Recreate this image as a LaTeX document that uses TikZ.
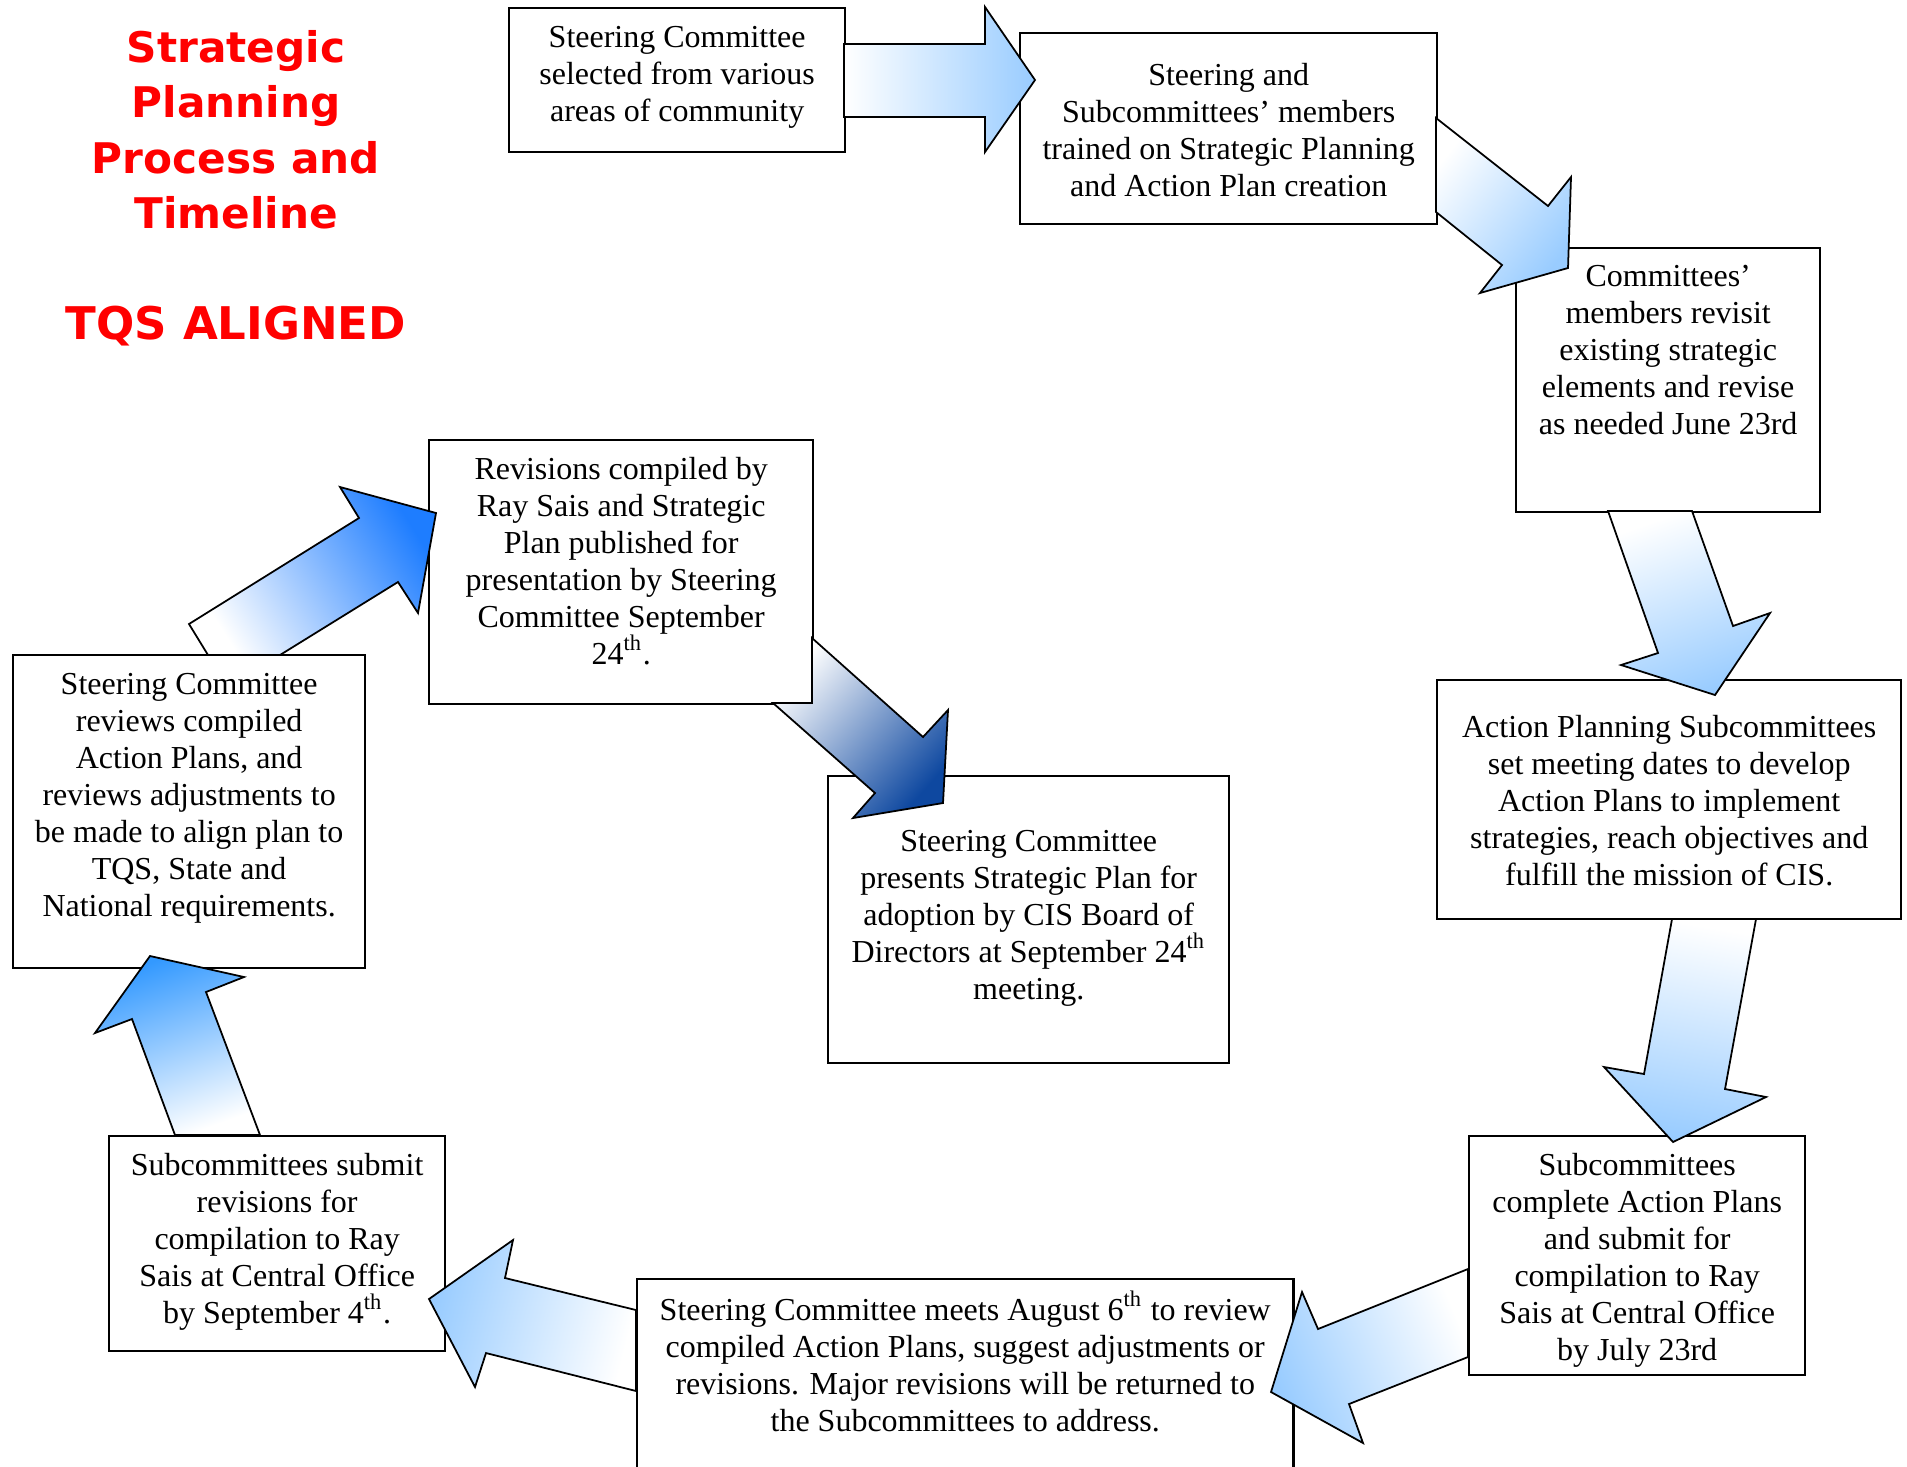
\documentclass[tikz,border=0pt]{standalone}
\usepackage{fontspec}
\setmainfont{Liberation Serif}
\newfontfamily\titlefont{DejaVu Sans}
\usetikzlibrary{positioning}
\definecolor{titlered}{RGB}{255,0,0}
\definecolor{paleblue}{RGB}{153,204,255}
\definecolor{skyblue}{RGB}{51,153,255}
\definecolor{brightblue}{RGB}{30,125,255}
\definecolor{navyblue}{RGB}{14,72,160}
\tikzset{
  stepbox/.style={draw, line width=0.6pt, fill=white, inner sep=0pt, anchor=north west,
    font=\fontsize{9.1}{10.52}\selectfont},
  bigarrow/.style={draw, line width=0.5pt, bottom color=white, top color=#1},
  bigarrow/.default=paleblue,
  heading/.style={text=titlered, align=center, inner sep=0pt,
    font=\titlefont\bfseries\fontsize{12}{15.7}\selectfont}
}
% width, height, top padding, text
\newcommand{\boxtext}[4]{\parbox[t][#2][t]{#1}{\centering\vspace*{#3}#4}}
\begin{document}
\begin{tikzpicture}[x=0.01cm, y=-0.01cm]
  \useasboundingbox (0,0) rectangle (1907,1466);
  % title
  \node[heading, anchor=north] (title) at (236,30) {Strategic\\Planning\\Process and\\Timeline};
  \node[heading, anchor=base, font=\titlefont\bfseries\fontsize{12.8}{15.7}\selectfont] (tqs) at (236,339) {TQS ALIGNED};
  % process steps
  \node[stepbox] (select) at (508,7) {\boxtext{3.36cm}{1.44cm}{0.18cm}{Steering Committee\\selected from various\\areas of community}};
  \node[stepbox] (train) at (1019,32) {\boxtext{4.17cm}{1.91cm}{0.30cm}{Steering and\\Subcommittees’ members\\trained on Strategic Planning\\and Action Plan creation}};
  \node[stepbox] (revisit) at (1515,247) {\boxtext{3.04cm}{2.64cm}{0.17cm}{Committees’\\members revisit\\existing strategic\\elements and revise\\as needed June 23rd}};
  \node[stepbox] (actplan) at (1436,679) {\boxtext{4.64cm}{2.39cm}{0.35cm}{Action Planning Subcommittees\\set meeting dates to develop\\Action Plans to implement\\strategies, reach objectives and\\fulfill the mission of CIS.}};
  \node[stepbox] (complete) at (1468,1135) {\boxtext{3.36cm}{2.39cm}{0.17cm}{Subcommittees\\complete Action Plans\\and submit for\\compilation to Ray\\Sais at Central Office\\by July 23rd}};
  \node[stepbox] (review) at (636,1278) {\boxtext{6.56cm}{2.02cm}{0.12cm}{Steering Committee meets August 6\textsuperscript{th} to review\\compiled Action Plans, suggest adjustments or\\revisions. Major revisions will be returned to\\the Subcommittees to address.}};
  \node[stepbox] (submit) at (108,1135) {\boxtext{3.36cm}{2.15cm}{0.17cm}{Subcommittees submit\\revisions for\\compilation to Ray\\Sais at Central Office\\by September 4\textsuperscript{th}.}};
  \node[stepbox] (align) at (12,654) {\boxtext{3.52cm}{3.13cm}{0.18cm}{Steering Committee\\reviews compiled\\Action Plans, and\\reviews adjustments to\\be made to align plan to\\TQS, State and\\National requirements.}};
  \node[stepbox] (publish) at (428,439) {\boxtext{3.84cm}{2.64cm}{0.17cm}{Revisions compiled by\\Ray Sais and Strategic\\Plan published for\\presentation by Steering\\Committee September\\24\textsuperscript{th}.}};
  \node[stepbox] (adopt) at (827,775) {\boxtext{4.01cm}{2.87cm}{0.54cm}{Steering Committee\\presents Strategic Plan for\\adoption by CIS Board of\\Directors at September 24\textsuperscript{th}\\meeting.}};
  % block arrows
  \draw[bigarrow, shading angle=-90] (844,44) -- (985,44) -- (985,7) -- (1035,80) -- (985,152) -- (985,117) -- (844,117) -- cycle;
  \draw[bigarrow, shading angle=-128] (1436,118) -- (1548,206) -- (1571,177) -- (1568,268) -- (1480,293) -- (1502,265) -- (1436,212) -- cycle;
  \draw[bigarrow, shading angle=-160.6] (1608,511) -- (1658,653) -- (1621,665) -- (1715,695) -- (1770,613) -- (1733,626) -- (1692,511) -- cycle;
  \draw[bigarrow, shading angle=170] (1672,919) -- (1644,1074) -- (1604,1067) -- (1673,1142) -- (1766,1097) -- (1725,1089) -- (1756,919) -- cycle;
  \draw[bigarrow, shading angle=112] (1468,1269) -- (1318,1329) -- (1302,1292) -- (1271,1392) -- (1363,1443) -- (1349,1404) -- (1468,1357) -- cycle;
  \draw[bigarrow, shading angle=76] (636,1310) -- (505,1278) -- (513,1240) -- (429,1299) -- (475,1387) -- (486,1353) -- (636,1391) -- cycle;
  \draw[bigarrow=skyblue, shading angle=20] (175,1135) -- (132,1019) -- (95,1033) -- (150,956) -- (244,977) -- (206,992) -- (260,1135) -- cycle;
  \draw[bigarrow=brightblue, shading angle=-58] (208,655) -- (189,624) -- (359,518) -- (340,487) -- (436,513) -- (418,613) -- (398,582) -- (280,655) -- cycle;
  \draw[bigarrow=navyblue, shading angle=-131.7] (812,638) -- (923,737) -- (948,710) -- (943,803) -- (853,818) -- (875,793) -- (773,703) -- (812,703) -- cycle;
\end{tikzpicture}
\end{document}
